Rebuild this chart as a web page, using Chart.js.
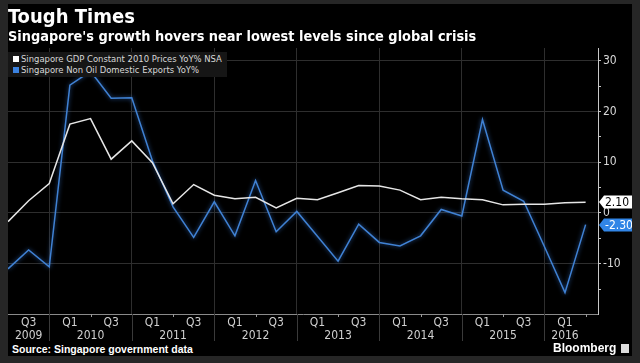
<!DOCTYPE html>
<html>
<head>
<meta charset="utf-8">
<script src="https://cdn.jsdelivr.net/npm/chart.js@4/dist/chart.umd.min.js"></script>
<style>
  html, body { margin: 0; padding: 0; }
  body { width: 640px; height: 363px; background: #262626; position: relative; overflow: hidden;
         font-family: "Liberation Sans Narrow", "DejaVu Sans Condensed", sans-serif; }
  #frame { position: absolute; left: 8px; top: 4px; width: 624px; height: 352px; background: #000; }
  #chart-wrap { position: absolute; left: 8px; top: 0; width: 624px; height: 342px; }
  .title { position: absolute; left: 8px; top: 6px; color: #fff; font-weight: bold; font-size: 20px; line-height: 21px; }
  .subtitle { position: absolute; left: 8px; top: 29px; color: #fff; font-weight: bold; font-size: 14.4px; line-height: 15px; }
  .legend { position: absolute; left: 8px; top: 52px; width: 219px; height: 25px; background: #161616;
            color: #d8d8d8; font-size: 9.4px; line-height: 10px; }
  .legend div { position: absolute; left: 5px; white-space: nowrap; }
  .legend span { display: inline-block; width: 6px; height: 6px; margin-right: 2px; vertical-align: 0px; }
  .source { position: absolute; left: 12px; top: 344px; color: #fff; font-weight: bold; font-size: 10.5px;
            line-height: 11px; font-family: "Liberation Sans", sans-serif; }
  .brand { position: absolute; left: 553px; top: 342px; color: #fff; font-weight: bold; font-size: 12px;
           line-height: 12px; font-family: "Liberation Sans", sans-serif; }
  .brand i { display: inline-block; width: 8px; height: 9px; background: #ddd; margin-left: 5px; vertical-align: -1px; }
</style>
</head>
<body>
<div id="frame"></div>
<div id="chart-wrap"><canvas id="chart"></canvas></div>
<div class="title">Tough Times</div>
<div class="subtitle">Singapore's growth hovers near lowest levels since global crisis</div>
<div class="legend">
  <div style="top:2px"><span style="background:#fff"></span>Singapore GDP Constant 2010 Prices YoY% NSA</div>
  <div style="top:13px"><span style="background:#3b82e0"></span>Singapore Non Oil Domestic Exports YoY%</div>
</div>
<div class="source">Source: Singapore government data</div>
<div class="brand">Bloomberg<i></i></div>
<script>
const quarters = [
  "Q2 2009", "Q3 2009", "Q4 2009",
  "Q1 2010", "Q2 2010", "Q3 2010", "Q4 2010",
  "Q1 2011", "Q2 2011", "Q3 2011", "Q4 2011",
  "Q1 2012", "Q2 2012", "Q3 2012", "Q4 2012",
  "Q1 2013", "Q2 2013", "Q3 2013", "Q4 2013",
  "Q1 2014", "Q2 2014", "Q3 2014", "Q4 2014",
  "Q1 2015", "Q2 2015", "Q3 2015", "Q4 2015",
  "Q1 2016", "Q2 2016",
];

const gdp = [
  -1.7, 2.4, 5.8,
  17.5, 18.6, 10.6, 14.2,
  9.9, 1.8, 5.6, 3.5,
  2.8, 3.1, 1.0, 2.9,
  2.6, 4.0, 5.4, 5.3,
  4.5, 2.6, 3.1, 2.8,
  2.6, 1.6, 1.7, 1.7,
  2.0, 2.1,
];

const nodx = [
  -11.0, -7.3, -10.6,
  25.2, 27.9, 22.6, 22.7,
  10.3, 1.2, -4.8, 2.2,
  -4.5, 6.4, -3.7, 0.3,
  -4.6, -9.5, -2.2, -5.8,
  -6.5, -4.5, 0.7, -0.6,
  18.4, 4.5, 2.3, -6.6,
  -15.7, -2.3,
];

const rightTicks = [30, 20, 10, 0, -10];
const minorTicks = [30, 25, 20, 15, 10, 5, 0, -5, -10, -15];

const FONT = '"Liberation Sans Narrow", "DejaVu Sans Condensed", sans-serif';

const qOf = (label) => label.split(" ")[0];
const yearOf = (label) => label.split(" ")[1];

const labelIdx = quarters.map((q, i) => i).filter((i) => ["Q1", "Q3"].includes(qOf(quarters[i])));
const boundaryIdx = quarters.map((q, i) => i).filter((i) => qOf(quarters[i]) === "Q4");
const midIdx = quarters.map((q, i) => i).filter((i) => i > 0 && qOf(quarters[i]) === "Q2");
const years = [...new Set(quarters.map(yearOf))];
const yearCenters = years.map((y) => {
  const idx = labelIdx.filter((i) => yearOf(quarters[i]) === y);
  return idx.reduce((a, b) => a + b, 0) / idx.length;
});

function toPoints(values) {
  return values.map((v, i) => ({ x: i, y: v }));
}

const separators = {
  id: "separators",
  afterDraw(chart) {
    const { ctx, chartArea } = chart;
    const x = chart.scales.x;
    ctx.save();
    ctx.lineWidth = 1;
    ctx.strokeStyle = "#3a3a3a";
    boundaryIdx.forEach((i) => {
      const px = Math.round(x.getPixelForValue(i)) + 0.5;
      ctx.beginPath();
      ctx.moveTo(px, chartArea.bottom);
      ctx.lineTo(px, chartArea.bottom + 27);
      ctx.stroke();
    });
    ctx.strokeStyle = "#999";
    midIdx.forEach((i) => {
      const px = Math.round(x.getPixelForValue(i)) + 0.5;
      ctx.beginPath();
      ctx.moveTo(px, chartArea.bottom);
      ctx.lineTo(px, chartArea.bottom + 3);
      ctx.stroke();
    });
    ctx.restore();
  },
};

const lastValueTags = {
  id: "lastValueTags",
  afterDraw(chart) {
    const { ctx, chartArea } = chart;
    const y = chart.scales.y;
    const tags = [
      { value: gdp[gdp.length - 1], bg: "#ffffff", fg: "#000000" },
      { value: nodx[nodx.length - 1], bg: "#3185e6", fg: "#ffffff" },
    ];
    ctx.save();
    ctx.font = `12px ${FONT}`;
    ctx.textBaseline = "middle";
    tags.forEach((tag) => {
      const py = Math.round(y.getPixelForValue(tag.value));
      const left = chartArea.right + 1;
      const right = chart.width;
      const h = 13;
      ctx.fillStyle = tag.bg;
      ctx.beginPath();
      ctx.moveTo(left, py);
      ctx.lineTo(left + 5, py - h / 2);
      ctx.lineTo(right, py - h / 2);
      ctx.lineTo(right, py + h / 2);
      ctx.lineTo(left + 5, py + h / 2);
      ctx.closePath();
      ctx.fill();
      ctx.fillStyle = tag.fg;
      ctx.fillText(tag.value.toFixed(2), left + 6, py + 0.5);
    });
    ctx.restore();
  },
};

const glow = {
  id: "glow",
  beforeDatasetDraw(chart, args) {
    if (args.index === 1) {
      chart.ctx.save();
      chart.ctx.shadowColor = "rgba(60, 130, 230, 0.7)";
      chart.ctx.shadowBlur = 4;
    }
  },
  afterDatasetDraw(chart, args) {
    if (args.index === 1) {
      chart.ctx.restore();
    }
  },
};

new Chart(document.getElementById("chart"), {
  type: "line",
  data: {
    datasets: [
      {
        label: "Singapore GDP Constant 2010 Prices YoY% NSA",
        data: toPoints(gdp),
        borderColor: "#e6e6e6",
        borderWidth: 1.5,
        pointRadius: 0,
        tension: 0,
      },
      {
        label: "Singapore Non Oil Domestic Exports YoY%",
        data: toPoints(nodx),
        borderColor: "#4082d4",
        borderWidth: 1.5,
        pointRadius: 0,
        tension: 0,
      },
    ],
  },
  options: {
    responsive: true,
    maintainAspectRatio: false,
    animation: false,
    layout: { padding: { top: 48, left: 0, right: 0, bottom: 0 } },
    plugins: {
      legend: { display: false },
      tooltip: { enabled: false },
    },
    scales: {
      x: {
        type: "linear",
        position: "bottom",
        weight: 0,
        min: 0,
        max: 28.6,
        afterBuildTicks(scale) {
          scale.ticks = [...labelIdx, ...boundaryIdx].sort((a, b) => a - b).map((v) => ({ value: v }));
        },
        afterFit(scale) {
          scale.height = 14;
        },
        border: { display: true, color: "#8a8a8a", width: 1 },
        grid: {
          drawTicks: false,
          color(context) {
            return boundaryIdx.includes(context.tick && context.tick.value) ? "#2e2e2e" : "rgba(0,0,0,0)";
          },
        },
        ticks: {
          autoSkip: false,
          maxRotation: 0,
          padding: 2,
          color: "#d0d0d0",
          font: { family: FONT, size: 12 },
          callback(value) {
            return labelIdx.includes(value) ? qOf(quarters[value]) : "";
          },
        },
      },
      xYear: {
        type: "linear",
        position: "bottom",
        weight: 1,
        min: 0,
        max: 28.6,
        afterBuildTicks(scale) {
          scale.ticks = yearCenters.map((v) => ({ value: v }));
        },
        afterFit(scale) {
          scale.height = 14;
        },
        border: { display: false },
        grid: { display: false, drawTicks: false },
        ticks: {
          autoSkip: false,
          maxRotation: 0,
          padding: 1,
          color: "#d0d0d0",
          font: { family: FONT, size: 12 },
          callback(value, index) {
            return years[index];
          },
        },
      },
      y: {
        type: "linear",
        position: "right",
        min: -19.9,
        max: 32.5,
        afterBuildTicks(scale) {
          scale.ticks = minorTicks.map((v) => ({ value: v }));
        },
        afterFit(scale) {
          scale.width = 34;
        },
        border: { display: true, color: "#c8c8c8", width: 1 },
        grid: {
          tickLength: 3,
          tickColor: "#c8c8c8",
          color(context) {
            return rightTicks.includes(context.tick && context.tick.value) ? "#2e2e2e" : "rgba(0,0,0,0)";
          },
        },
        ticks: {
          padding: 2,
          color: "#d8d8d8",
          font: { family: FONT, size: 12 },
          callback(value) {
            return rightTicks.includes(value) ? String(value) : "";
          },
        },
      },
    },
  },
  plugins: [separators, lastValueTags, glow],
});
</script>
</body>
</html>
